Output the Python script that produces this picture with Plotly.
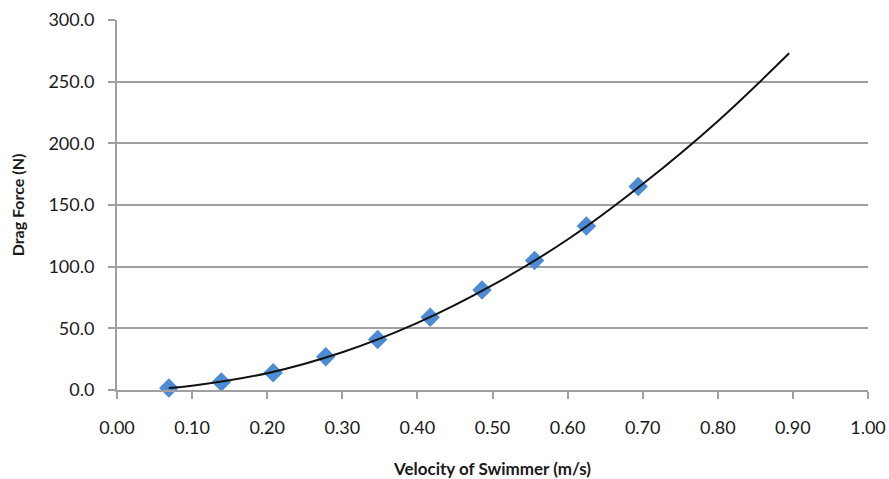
import plotly.graph_objects as go

# Measured data (velocity m/s, drag force N)
velocity = [0.069, 0.139, 0.208, 0.278, 0.347, 0.417, 0.486, 0.556, 0.625, 0.694]
drag_force = [1.6, 6.5, 14.0, 27.0, 41.0, 59.0, 81.0, 105.0, 133.0, 165.0]

# Trend line
trend_x = [0.069, 0.10, 0.20, 0.30, 0.40, 0.50, 0.60, 0.70, 0.80, 0.895]
trend_y = [1.6, 3.4, 13.6, 30.6, 54.4, 85.0, 122.0, 167.0, 218.0, 273.0]

x_ticks = [0.0, 0.1, 0.2, 0.3, 0.4, 0.5, 0.6, 0.7, 0.8, 0.9, 1.0]
y_ticks = [0, 50, 100, 150, 200, 250, 300]

FONT = "Lato"
GRID = "#a0a0a0"
TEXT = "#1a1a1a"

fig = go.Figure()
fig.add_trace(go.Scatter(
    x=velocity, y=drag_force, mode="markers",
    marker=dict(symbol="diamond", size=15, color="#4d8bd4"),
    showlegend=False, cliponaxis=False,
))
fig.add_trace(go.Scatter(
    x=trend_x, y=trend_y, mode="lines", line_shape="spline",
    line=dict(color="#111111", width=2),
    showlegend=False,
))

fig.update_layout(
    width=889, height=479,
    margin=dict(l=117, r=21, t=20, b=89),
    paper_bgcolor="white", plot_bgcolor="white",
    font=dict(family=FONT, color=TEXT),
)
fig.update_xaxes(
    range=[0, 1.0], tickvals=x_ticks, tickformat=".2f",
    showgrid=False, showline=True, linecolor=GRID, linewidth=2,
    ticks="outside", ticklen=7, tickcolor=GRID, tickwidth=2,
    tickfont=dict(size=18, family=FONT, color=TEXT), ticklabelstandoff=13,
    zeroline=False, automargin=False,
    title=dict(text="<b>Velocity of Swimmer (m/s)</b>", font=dict(size=17, family=FONT, color=TEXT), standoff=30),
)
fig.update_yaxes(
    range=[0, 300], tickvals=y_ticks, tickformat=".1f",
    showgrid=True, gridcolor=GRID, gridwidth=2,
    showline=True, linecolor=GRID, linewidth=2,
    ticks="outside", ticklen=7, tickcolor=GRID, tickwidth=2,
    tickfont=dict(size=18, family=FONT, color=TEXT), ticklabelstandoff=10,
    zeroline=False, automargin=False,
    title=dict(text="<b>Drag Force (N)</b>", font=dict(size=16, family=FONT, color=TEXT), standoff=20),
)

fig.write_html("out.html", config={"displayModeBar": False},
               post_script="document.body.style.margin='0';")
